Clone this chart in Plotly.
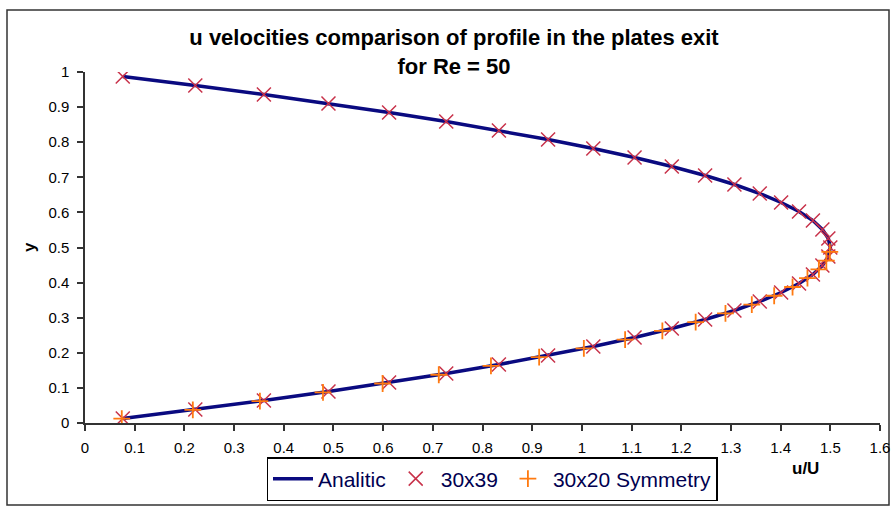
import plotly.graph_objects as go

# ---- data ----
# Analitic profile (u/U vs y)
analitic_u = [0.076, 0.222, 0.360, 0.490, 0.612, 0.727, 0.833, 0.932, 1.023, 1.106,
              1.181, 1.248, 1.307, 1.358, 1.401, 1.437, 1.465, 1.484, 1.496, 1.500,
              1.496, 1.484, 1.465, 1.437, 1.401, 1.358, 1.307, 1.248, 1.181, 1.106,
              1.023, 0.932, 0.833, 0.727, 0.612, 0.490, 0.360, 0.222, 0.076]
analitic_y = [0.0128, 0.0385, 0.0641, 0.0897, 0.1154, 0.1410, 0.1667, 0.1923, 0.2179, 0.2436,
              0.2692, 0.2949, 0.3205, 0.3462, 0.3718, 0.3974, 0.4231, 0.4487, 0.4744, 0.5000,
              0.5256, 0.5513, 0.5769, 0.6026, 0.6282, 0.6538, 0.6795, 0.7051, 0.7308, 0.7564,
              0.7821, 0.8077, 0.8333, 0.8590, 0.8846, 0.9103, 0.9359, 0.9615, 0.9872]

# 30x39 mesh
mesh39_u = [0.076, 0.222, 0.360, 0.490, 0.612, 0.727, 0.833, 0.932, 1.023, 1.106,
            1.181, 1.248, 1.307, 1.358, 1.401, 1.437, 1.465, 1.484, 1.496, 1.500,
            1.496, 1.484, 1.465, 1.437, 1.401, 1.358, 1.307, 1.248, 1.181, 1.106,
            1.023, 0.932, 0.833, 0.727, 0.612, 0.490, 0.360, 0.222, 0.076]
mesh39_y = [0.0128, 0.0385, 0.0641, 0.0897, 0.1154, 0.1410, 0.1667, 0.1923, 0.2179, 0.2436,
            0.2692, 0.2949, 0.3205, 0.3462, 0.3718, 0.3974, 0.4231, 0.4487, 0.4744, 0.5000,
            0.5256, 0.5513, 0.5769, 0.6026, 0.6282, 0.6538, 0.6795, 0.7051, 0.7308, 0.7564,
            0.7821, 0.8077, 0.8333, 0.8590, 0.8846, 0.9103, 0.9359, 0.9615, 0.9872]

# 30x20 Symmetry (lower half only)
sym20_u = [0.074, 0.217, 0.352, 0.479, 0.599, 0.712, 0.817, 0.914, 1.004, 1.087,
           1.162, 1.229, 1.289, 1.342, 1.387, 1.424, 1.454, 1.477, 1.492, 1.499]
sym20_y = [0.0125, 0.0375, 0.0625, 0.0875, 0.1125, 0.1375, 0.1625, 0.1875, 0.2125, 0.2375,
           0.2625, 0.2875, 0.3125, 0.3375, 0.3625, 0.3875, 0.4125, 0.4375, 0.4625, 0.4875]

series_names = ["Analitic", "30x39", "30x20 Symmetry"]
title_text = "u velocities comparison of profile in the plates exit<br>for Re = 50"
x_title = "u/U"
y_title = "y"

FONT = "Liberation Sans, Arial, sans-serif"

fig = go.Figure()
fig.add_trace(go.Scatter(
    x=analitic_u, y=analitic_y, mode="lines", name=series_names[0],
    line=dict(color="#0a0a80", width=3.5)))
fig.add_trace(go.Scatter(
    x=mesh39_u, y=mesh39_y, mode="markers", name=series_names[1],
    marker=dict(symbol="x-thin-open", size=14, color="#c8324a",
                line=dict(color="#c8324a", width=1.5))))
fig.add_trace(go.Scatter(
    x=sym20_u, y=sym20_y, mode="markers", name=series_names[2],
    marker=dict(symbol="cross-thin-open", size=12, color="#ff7a10",
                line=dict(color="#ff7a10", width=1.8))))

L, R, T, B = 85, 13, 72, 85
W, H = 893, 508
pw, ph = W - L - R, H - T - B

def px2paper_x(px):
    return (px - L) / pw

def py2paper_y(py):
    return (H - B - py) / ph

fig.update_layout(
    width=W, height=H,
    margin=dict(l=L, r=R, t=T, b=B, autoexpand=False),
    paper_bgcolor="white", plot_bgcolor="white",
    font=dict(family=FONT, color="black", size=15),
    title=dict(text="<b>" + title_text + "</b>", x=454 / W, xanchor="center",
               y=1 - 45 / H, yanchor="top", yref="container",
               font=dict(family=FONT, size=22, color="black")),
    showlegend=True,
    legend=dict(orientation="h", x=px2paper_x(492), xanchor="center",
                y=1 - 457 / H, yanchor="top", yref="container",
                bordercolor="black", borderwidth=1.5, bgcolor="white",
                font=dict(family=FONT, size=21, color="#000050"),
                itemwidth=40, tracegroupgap=0),
    xaxis=dict(range=[0, 1.6], dtick=0.1, tick0=0, showgrid=False, zeroline=False,
               showline=True, linecolor="#333333", linewidth=1.5,
               ticks="outside", ticklen=6, tickwidth=1.5, tickcolor="#333333",
               ticklabelstandoff=4,
               tickfont=dict(size=15, family=FONT)),
    yaxis=dict(range=[0, 1], dtick=0.1, tick0=0, showgrid=False, zeroline=False,
               showline=True, linecolor="#333333", linewidth=1.5,
               ticks="outside", ticklen=6, tickwidth=1.5, tickcolor="#333333",
               ticklabelstandoff=5,
               tickfont=dict(size=15, family=FONT)),
    annotations=[
        dict(text="<b>" + x_title + "</b>", xref="paper", yref="paper",
             x=px2paper_x(805), y=py2paper_y(468), xanchor="center", yanchor="middle",
             showarrow=False, font=dict(family=FONT, size=17, color="black")),
        dict(text="<b>" + y_title + "</b>", xref="paper", yref="paper",
             x=px2paper_x(29), y=py2paper_y(247), xanchor="center", yanchor="middle",
             showarrow=False, textangle=-90,
             font=dict(family=FONT, size=17, color="black")),
    ],
    shapes=[
        dict(type="rect", xref="paper", yref="paper",
             x0=px2paper_x(7), x1=px2paper_x(889), y0=py2paper_y(505), y1=py2paper_y(10),
             line=dict(color="#333333", width=1.5), fillcolor="rgba(0,0,0,0)", layer="below"),
    ],
)

fig.write_html("out.html")
